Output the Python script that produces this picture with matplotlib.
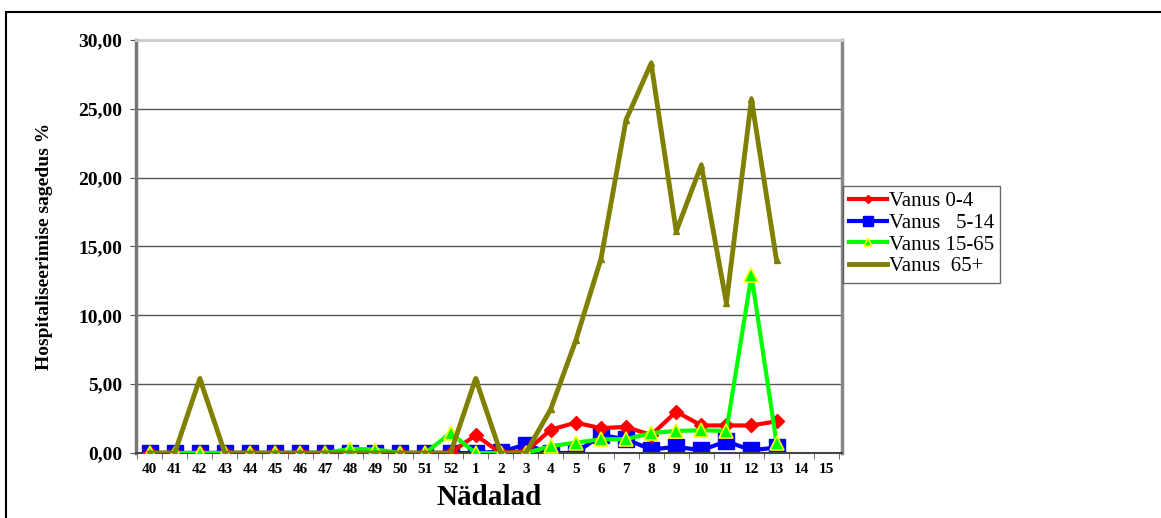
import matplotlib
matplotlib.use("Agg")
import matplotlib.pyplot as plt
from matplotlib.patches import Rectangle
from matplotlib.ticker import FuncFormatter

# week labels (season 40..52, then 1..15)
weeks = ["40", "41", "42", "43", "44", "45", "46", "47", "48", "49", "50", "51", "52",
         "1", "2", "3", "4", "5", "6", "7", "8", "9", "10", "11", "12", "13", "14", "15"]

# values for weeks 40..13 (14 and 15 have no data)
age_0_4 = [0, 0, 0, 0, 0, 0, 0, 0, 0, 0, 0, 0, 0,
           1.3, 0, 0.1, 1.7, 2.2, 1.8, 1.9, 1.3, 3.0, 2.0, 2.0, 2.0, 2.3]
age_5_14 = [0, 0, 0, 0, 0, 0, 0, 0, 0, 0, 0, 0, 0,
            0, 0.1, 0.6, 0, 0, 1.3, 1.0, 0.25, 0.45, 0.2, 0.85, 0.2, 0.4]
age_15_65 = [0, 0, 0, 0, 0, 0, 0, 0, 0.3, 0.25, 0, 0, 1.45,
             0, 0, 0, 0.5, 0.75, 1.0, 1.0, 1.45, 1.6, 1.65, 1.6, 12.9, 0.75]
age_65 = [0, 0, 5.4, 0, 0, 0, 0, 0, 0, 0, 0, 0, 0,
          5.4, 0, 0, 3.2, 8.2, 14.1, 24.2, 28.3, 16.1, 20.9, 10.9, 25.7, 14.0]

yticks = [0, 5, 10, 15, 20, 25, 30]

plt.rcParams["font.family"] = ["Liberation Serif", "DejaVu Serif"]

fig = plt.figure(figsize=(11.61, 5.18), dpi=100)
ax = fig.add_axes([0.117, 0.1255, 0.608, 0.7975])

x = list(range(len(age_0_4)))
ax.plot(x, age_0_4, color="#ff0000", lw=3, marker="D", ms=7,
        mec="#ff0000", label="Vanus 0-4", zorder=3)
ax.plot(x, age_5_14, color="#0000ff", lw=3, marker="s", ms=11,
        mec="#0000ff", label="Vanus   5-14", zorder=2)
ax.plot(x, age_15_65, color="#00ff00", lw=3, marker="^", ms=10,
        mfc="#00ff00", mec="#ffff00", mew=1.2, label="Vanus 15-65", zorder=4)
ax.plot(x, age_65, color="#808000", lw=3.5, marker="^", ms=4,
        label="Vanus  65+", zorder=5)

ax.set_xlim(-0.55, 27.6)
ax.set_ylim(0, 30)
ax.set_yticks(yticks)
ax.yaxis.set_major_formatter(FuncFormatter(lambda v, p: f"{v:.2f}".replace(".", ",")))
ax.set_xticks(range(len(weeks)))
ax.set_xticklabels(weeks, fontsize=11, fontweight="bold")
ax.set_xticks([i + 0.5 for i in range(-1, len(weeks))], minor=True)
ax.tick_params(axis="x", which="major", length=0, pad=7)
ax.tick_params(axis="x", which="minor", length=4, direction="out", color="#555555")
ax.tick_params(axis="y", length=4, direction="out", color="#555555", labelsize=14, pad=6)
for lab in ax.get_yticklabels():
    lab.set_fontweight("bold")

ax.grid(True, axis="y", color="#555555", lw=1)
ax.set_axisbelow(True)
ax.spines["left"].set_color("#777777")
ax.spines["left"].set_linewidth(2.5)
ax.spines["right"].set_color("#888888")
ax.spines["right"].set_linewidth(2.5)
ax.spines["top"].set_color("#cccccc")
ax.spines["top"].set_linewidth(2)
ax.spines["bottom"].set_color("#444444")
ax.spines["bottom"].set_linewidth(1.5)

ax.set_xlabel("Nädalad", fontsize=21, fontweight="bold", labelpad=6)
ax.set_ylabel("Hospitaliseerimise sagedus %", fontsize=14, fontweight="bold", labelpad=18)

leg = ax.legend(loc="center left", bbox_to_anchor=(1.0, 0.53), fontsize=15,
                frameon=True, fancybox=False, edgecolor="#444444",
                handlelength=1.8, handletextpad=0.1, borderpad=0.3,
                labelspacing=0.1, markerscale=0.6, borderaxespad=0.05)
leg.get_frame().set_linewidth(1)

# outer chart frame
fig.patches.append(Rectangle((6 / 1161, -0.02), 1.1, (518 - 12) / 518 + 0.02,
                             transform=fig.transFigure, fill=False,
                             edgecolor="black", lw=1.5))

fig.savefig("out.png", dpi=100)
